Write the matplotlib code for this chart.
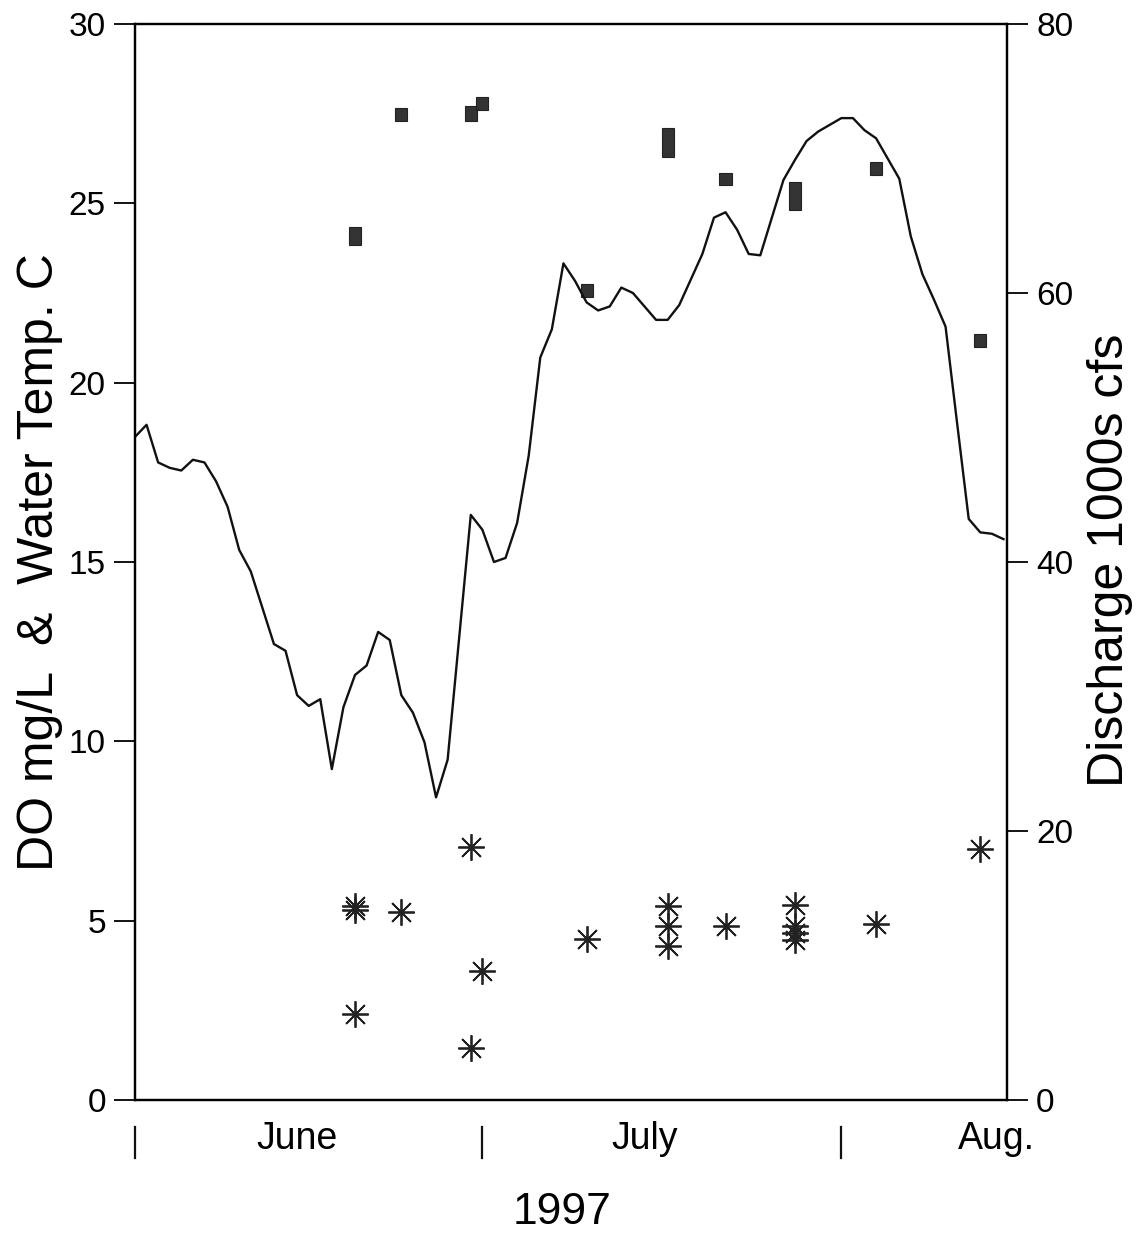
import numpy as np
import matplotlib
matplotlib.use("Agg")
import matplotlib.pyplot as plt

plt.rcParams['font.family'] = ['Liberation Sans', 'DejaVu Sans']

# daily discharge, 1000s cfs, day 0 = June 1 1997
discharge = [49.3, 50.2, 47.4, 47.0, 46.8, 47.6, 47.4, 46.0, 44.1, 40.9,
             39.3, 36.6, 33.9, 33.4, 30.1, 29.3, 29.8, 24.6, 29.2, 31.6,
             32.3, 34.8, 34.2, 30.1, 28.8, 26.6, 22.5, 25.3, 34.4, 43.5,
             42.4, 40.0, 40.3, 42.9, 47.9, 55.2, 57.3, 62.2, 60.9, 59.3,
             58.7, 59.0, 60.4, 60.0, 59.0, 58.0, 58.0, 59.1, 61.0, 62.9,
             65.6, 66.0, 64.7, 62.9, 62.8, 65.6, 68.4, 69.9, 71.3, 72.0,
             72.5, 73.0, 73.0, 72.1, 71.5, 70.0, 68.5, 64.2, 61.4, 59.5,
             57.5, 50.3, 43.2, 42.2, 42.1, 41.7]
q_days = np.arange(len(discharge))

# water temperature range (low, high) on sampling days
temp_days = [19, 23, 29, 30, 39, 46, 51, 57, 64, 73]
temp_low = [23.85, 27.3, 27.3, 27.6, 22.4, 26.3, 25.5, 24.8, 25.8, 21.0]
temp_high = [24.35, 27.65, 27.7, 27.95, 22.75, 27.1, 25.85, 25.6, 26.15, 21.35]

# dissolved oxygen
do_days = [19, 19, 19, 23, 29, 29, 30, 39, 46, 46, 46, 51, 57, 57, 57, 57, 64, 73]
do_vals = [5.4, 5.3, 2.4, 5.25, 7.05, 1.45, 3.6, 4.5, 5.4, 4.85, 4.3, 4.85,
           5.45, 4.85, 4.65, 4.45, 4.9, 7.0]

month_starts = [0, 30, 61]
month_names = ["June", "July", "Aug."]
month_mid = [14, 44, 74.4]

fig = plt.figure(figsize=(11.41, 12.35), dpi=100)
ax = fig.add_axes([0.1183, 0.1093, 0.7642, 0.8713])
ax2 = ax.twinx()

ax.bar(temp_days, np.array(temp_high) - np.array(temp_low), bottom=temp_low,
       width=1.05, color='#333333', edgecolor='#222222', linewidth=0.8)
ax.plot(do_days, do_vals, linestyle='none', marker=(8, 2, 0), markersize=19,
        markeredgewidth=1.3, color='#222222')

ax2.plot(q_days, discharge, color='#111111', lw=1.7)

ax.set_xlim(0, 75.3)
ax.set_ylim(0, 30)
ax2.set_ylim(0, 80)
ax.set_yticks([0, 5, 10, 15, 20, 25, 30])
ax2.set_yticks([0, 20, 40, 60, 80])
ax.set_xticks([])

for a in (ax, ax2):
    a.tick_params(axis='y', direction='out', length=15, width=1.3,
                  labelsize=24, pad=6)
    for s in a.spines.values():
        s.set_linewidth(1.6)

for d in month_starts:
    ax.plot([d, d], [-0.025, -0.054], transform=ax.get_xaxis_transform(),
            clip_on=False, color='#111111', lw=1.6)
for d, name in zip(month_mid, month_names):
    ax.text(d, -0.036, name, transform=ax.get_xaxis_transform(),
            ha='center', va='center', fontsize=27)

fig.text(0.035, 1 - 562 / 1235, "DO mg/L  &  Water Temp. C", rotation=90,
         ha='center', va='center', fontsize=36)
fig.text(0.973, 1 - 560 / 1235, "Discharge 1000s cfs", rotation=90,
         ha='center', va='center', fontsize=36)
fig.text(0.4926, 0.018, "1997", ha='center', va='center', fontsize=32)

fig.savefig("out.png", dpi=100)
